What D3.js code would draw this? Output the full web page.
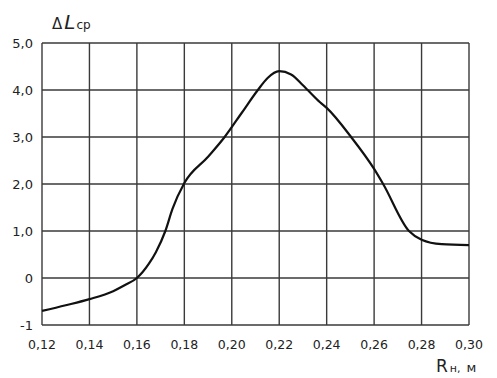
<!DOCTYPE html>
<html>
<head>
<meta charset="utf-8">
<script src="https://cdn.jsdelivr.net/npm/d3@7"></script>
<style>
  html, body { margin: 0; padding: 0; background: #fff; }
  svg text { font-family: "DejaVu Sans", sans-serif; fill: #222; }
</style>
</head>
<body>
<svg id="chart" width="497" height="378"></svg>
<script>
// значения
const rValues = [0.12, 0.13, 0.14, 0.15, 0.155, 0.16, 0.165, 0.168, 0.172, 0.175, 0.18, 0.19, 0.197, 0.204, 0.211, 0.215, 0.22, 0.225, 0.23, 0.232, 0.2372, 0.24, 0.2503, 0.26, 0.2638, 0.2747, 0.28, 0.2885, 0.30];
const dlValues = [-0.7, -0.58, -0.45, -0.28, -0.15, 0.0, 0.3, 0.55, 1.0, 1.47, 2.02, 2.58, 3.0, 3.5, 4.0, 4.25, 4.4, 4.33, 4.1, 4.0, 3.74, 3.62, 3.0, 2.32, 2.0, 1.0, 0.815, 0.72, 0.70];
const xTicks = [0.12, 0.14, 0.16, 0.18, 0.20, 0.22, 0.24, 0.26, 0.28, 0.30];
const yTicks = [-1, 0, 1, 2, 3, 4, 5];

const svg = d3.select("#chart");
const margin = { top: 43, right: 28, bottom: 53, left: 42 };
const W = 497, H = 378;
const innerW = W - margin.left - margin.right;
const innerH = H - margin.top - margin.bottom;

const x = d3.scaleLinear().domain([0.12, 0.30]).range([0, innerW]);
const y = d3.scaleLinear().domain([-1, 5]).range([innerH, 0]);

const g = svg.append("g").attr("transform", `translate(${margin.left},${margin.top})`);

const fmtX = (d) => d3.format(".2f")(d).replace(".", ",");
const fmtY = (d) => (d === 0 ? "0" : d < 0 ? "-1" : d3.format(".1f")(d).replace(".", ","));

// сетка
g.append("g")
  .selectAll("line")
  .data(xTicks)
  .join("line")
  .attr("x1", (d) => x(d))
  .attr("x2", (d) => x(d))
  .attr("y1", 0)
  .attr("y2", innerH)
  .attr("stroke", "#3a3a3a")
  .attr("stroke-width", 1.4);

g.append("g")
  .selectAll("line")
  .data(yTicks)
  .join("line")
  .attr("x1", 0)
  .attr("x2", innerW)
  .attr("y1", (d) => y(d))
  .attr("y2", (d) => y(d))
  .attr("stroke", "#3a3a3a")
  .attr("stroke-width", 1.4);

// подписи осей
g.append("g")
  .selectAll("text")
  .data(xTicks)
  .join("text")
  .attr("x", (d) => x(d))
  .attr("y", innerH + 24)
  .attr("text-anchor", "middle")
  .attr("font-size", 12.5)
  .text(fmtX);

g.append("g")
  .selectAll("text")
  .data(yTicks)
  .join("text")
  .attr("x", -9)
  .attr("y", (d) => y(d))
  .attr("dy", "0.35em")
  .attr("text-anchor", "end")
  .attr("font-size", 13)
  .text(fmtY);

// кривая
const pts = rValues.map((r, i) => [r, dlValues[i]]);
g.append("path")
  .datum(pts)
  .attr("fill", "none")
  .attr("stroke", "#111")
  .attr("stroke-width", 2.2)
  .attr("d", d3.line().x((d) => x(d[0])).y((d) => y(d[1])).curve(d3.curveMonotoneX));

// заголовки осей
const yl = svg.append("text").attr("x", 52).attr("y", 29);
yl.append("tspan").attr("font-size", 15).text("Δ");
yl.append("tspan").attr("font-size", 20).attr("font-style", "italic").attr("dx", 2).text("L");
yl.append("tspan").attr("font-size", 12).attr("dx", 1).text("ср");

const xl = svg.append("text").attr("x", 436).attr("y", 372);
xl.append("tspan").attr("font-size", 17).text("R");
xl.append("tspan").attr("font-size", 11).attr("dx", 2).text("н,");
xl.append("tspan").attr("font-size", 13).attr("dx", 6).text("м");
</script>
</body>
</html>
